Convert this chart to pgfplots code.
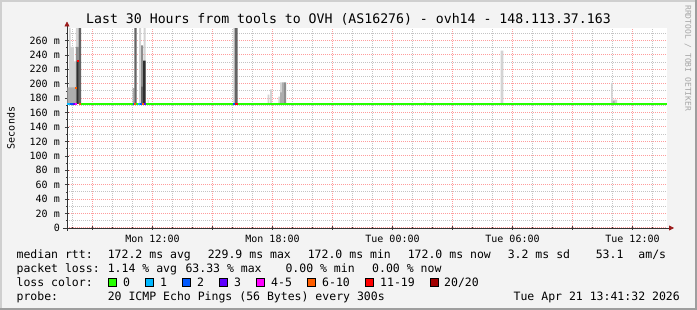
\documentclass[border=0pt]{standalone}
\usepackage{pgfplots}
\pgfplotsset{compat=1.18}
\usepackage{fontspec}
\setmainfont{DejaVu Sans Mono}
\usetikzlibrary{arrows.meta}
\definecolor{bgc}{HTML}{F3F3F3}
\definecolor{brdL}{HTML}{CFCFCF}
\definecolor{brdD}{HTML}{9E9E9E}
\definecolor{mgrid}{HTML}{FF9C9C}
\definecolor{ngrid}{HTML}{C4C4C4}
\definecolor{arrowc}{HTML}{9B1B1B}
\definecolor{lc0}{HTML}{26FF00}
\definecolor{lc1}{HTML}{00B8FF}
\definecolor{lc2}{HTML}{0059FF}
\definecolor{lc3}{HTML}{5E00FF}
\definecolor{lc4}{HTML}{FF00FF}
\definecolor{lc6}{HTML}{FF5E00}
\definecolor{lc11}{HTML}{FF0000}
\definecolor{lc20}{HTML}{A10000}
\definecolor{smL}{HTML}{D3D3D3}
\definecolor{smM}{HTML}{ADADAD}
\definecolor{smG}{HTML}{8E8E8E}
\definecolor{smD}{HTML}{646464}
\definecolor{smK}{HTML}{2E2E2E}
\newcommand{\lgfont}{\fontsize{11.5}{13}\selectfont}
\newcommand{\tkfont}{\fontsize{10}{12}\selectfont}
\begin{document}
\begin{tikzpicture}[x=1pt,y=1pt]
\useasboundingbox (0,0) rectangle (697,310);
\fill[bgc] (0,0) rectangle (697,310);
\fill[brdL] (0,0) rectangle (2,310);
\fill[brdL] (0,308) rectangle (697,310);
\fill[brdD] (0,0) rectangle (697,2);
\fill[brdD] (695,0) rectangle (697,310);
\begin{axis}[
  at={(67pt,82pt)}, anchor=south west,
  scale only axis, width=600pt, height=200pt,
  xmin=7.725, xmax=37.725, ymin=0, ymax=277.2,
  axis background/.style={fill=white},
  axis x line*=bottom, axis y line*=left,
  x axis line style={black!80, line width=0.8pt, shorten <=-4pt, shorten >=-7pt, -{Triangle[length=5pt,width=5pt,color=arrowc]}},
  y axis line style={black!80, line width=0.8pt, shorten <=-3pt, shorten >=-6.5pt, -{Triangle[length=5pt,width=5pt,color=arrowc]}},
  xtick={9,12,...,36},
  xticklabels={,Mon 12:00,,Mon 18:00,,Tue 00:00,,Tue 06:00,,Tue 12:00},
  minor xtick={8,10,11,13,14,16,17,19,20,22,23,25,26,28,29,31,32,34,35,37},
  ytick={0,20,...,260},
  yticklabels={0,20 m,40 m,60 m,80 m,100 m,120 m,140 m,160 m,180 m,200 m,220 m,240 m,260 m},
  minor ytick={10,30,...,270},
  grid=both,
  major grid style={mgrid, line width=1pt, dash pattern=on 1pt off 1pt},
  minor grid style={ngrid, line width=1pt, dash pattern=on 1pt off 1pt},
  tick align=center, major tick length=4pt, minor tick length=2pt,
  tick style={black!75, line width=0.6pt},
  /pgf/number format/assume math mode=true,
  xticklabel style={font=\tkfont, anchor=base, inner sep=0pt, yshift=-13pt},
  yticklabel style={font=\tkfont, anchor=east, inner sep=0pt, xshift=-5pt},
  unbounded coords=jump,
]
% smoke: light
\addplot[fill=smL, draw=none] coordinates {
(7.825,172)(7.825,277)(7.91,277)(7.91,172)(nan,nan)
(7.91,172)(7.91,251)(8.075,251)(8.075,172)(nan,nan)
(8.075,172)(8.075,231)(8.175,231)(8.175,172)(nan,nan)
(8.175,172)(8.175,277)(8.31,277)(8.31,172)(nan,nan)
(11.325,172)(11.325,277)(11.425,277)(11.425,172)(nan,nan)
(11.55,172)(11.55,277)(11.66,277)(11.66,172)(nan,nan)
(11.75,172)(11.75,178)(11.8,178)(11.8,172)(nan,nan)
(16.04,172)(16.04,277)(16.1,277)(16.1,172)(nan,nan)
(17.76,172)(17.76,185)(17.84,185)(17.84,172)(nan,nan)
(17.875,172)(17.875,192)(17.975,192)(17.975,172)(nan,nan)
(18.29,172)(18.29,182)(18.375,182)(18.375,172)(nan,nan)
(18.375,172)(18.375,202)(18.475,202)(18.475,172)(nan,nan)
(25.575,172)(25.575,174)(25.675,174)(25.675,172)(nan,nan)
(29.41,172)(29.41,246)(29.54,246)(29.54,172)(nan,nan)
(34.925,172)(34.925,201)(35.01,201)(35.01,172)(nan,nan)
(35.01,172)(35.01,178)(35.225,178)(35.225,172)
};
% smoke: medium
\addplot[fill=smM, draw=none] coordinates {
(7.75,172)(7.75,195)(8.175,195)(8.175,172)(nan,nan)
(11.01,172)(11.01,194)(11.09,194)(11.09,172)(nan,nan)
(18.375,172)(18.375,188)(18.475,188)(18.475,172)(nan,nan)
(18.475,172)(18.475,202)(18.575,202)(18.575,172)(nan,nan)
(35.01,172)(35.01,176)(35.1,176)(35.1,172)
};
% smoke: grey
\addplot[fill=smG, draw=none] coordinates {
(8.175,172)(8.175,251)(8.31,251)(8.31,172)(nan,nan)
(11.425,172)(11.425,253)(11.525,253)(11.525,172)(nan,nan)
(18.575,172)(18.575,202)(18.675,202)(18.675,172)
};
% smoke: dark
\addplot[fill=smD, draw=none] coordinates {
(8.31,172)(8.31,277)(8.425,277)(8.425,172)(nan,nan)
(11.09,172)(11.09,277)(11.21,277)(11.21,172)(nan,nan)
(11.425,172)(11.425,196)(11.525,196)(11.525,172)(nan,nan)
(16.1,172)(16.1,277)(16.26,277)(16.26,172)
};
% smoke: black
\addplot[fill=smK, draw=none] coordinates {
(8.21,172)(8.21,231)(8.31,231)(8.31,172)(nan,nan)
(11.525,172)(11.525,232)(11.66,232)(11.66,172)
};
% median line (0 loss)
\addplot[lc0, line width=2pt] coordinates {(8.41,172)(37.725,172)};
% median line coloured by loss
\addplot[lc1, line width=2pt] coordinates {(7.725,172)(7.89,172)(nan,nan)(11.29,172)(11.375,172)};
\addplot[lc2, line width=2pt] coordinates {(7.89,172)(8.025,172)(nan,nan)(11.0,172)(11.05,172)(nan,nan)(11.375,172)(11.46,172)(nan,nan)(16.04,172)(16.1,172)};
\addplot[lc3, line width=2pt] coordinates {(8.025,172)(8.14,172)(nan,nan)(11.575,172)(11.66,172)};
\addplot[lc4, line width=2pt] coordinates {(8.14,172)(8.21,172)};
\addplot[lc6, line width=2pt] coordinates {(8.31,172)(8.41,172)(nan,nan)(11.05,172)(11.15,172)(nan,nan)(11.46,172)(11.575,172)(nan,nan)(8.15,194)(8.245,194)};
\addplot[lc11, line width=2pt] coordinates {(16.1,172)(16.26,172)(nan,nan)(8.245,231)(8.31,231)};
\end{axis}
% title and labels
\node[anchor=base, inner sep=0pt, font=\fontsize{13.2}{15}\selectfont] at (348.5,286) {Last 30 Hours from tools to OVH (AS16276) - ovh14 - 148.113.37.163};
\node[rotate=90, inner sep=0pt, font=\tkfont] at (11,182) {Seconds};
\node[rotate=-90, anchor=west, inner sep=0pt, text=black!35, font=\fontsize{8}{9}\selectfont] at (688,305) {RRDTOOL / TOBI OETIKER};
% legend
\begin{scope}[every node/.style={anchor=base west, inner sep=0pt, font=\lgfont}]
\node at (16.4,51.5) {median rtt:};
\node at (107.6,51.5) {172.2 ms avg};
\node at (207.6,51.5) {229.9 ms max};
\node at (307.6,51.5) {172.0 ms min};
\node at (407.6,51.5) {172.0 ms now};
\node at (507.6,51.5) {3.2 ms sd};
\node at (595.6,51.5) {53.1};
\node at (638.2,51.5) {am/s};
\node at (16.4,37.5) {packet loss:};
\node at (107.6,37.5) {1.14 \% avg};
\node at (185.3,37.5) {63.33 \% max};
\node at (285.3,37.5) {0.00 \% min};
\node at (372,37.5) {0.00 \% now};
\node at (16.4,23.5) {loss color:};
\node at (123,23.5) {0};
\node at (160,23.5) {1};
\node at (197,23.5) {2};
\node at (234,23.5) {3};
\node at (271,23.5) {4-5};
\node at (322,23.5) {6-10};
\node at (380,23.5) {11-19};
\node at (444,23.5) {20/20};
\node at (16.4,9.8) {probe:};
\node at (107.6,9.8) {20 ICMP Echo Pings (56 Bytes) every 300s};
\node[anchor=base east] at (680,9.8) {Tue Apr 21 13:41:32 2026};
\end{scope}
\foreach \xx/\cc in {108/lc0,145.3/lc1,182.2/lc2,219/lc3,256.4/lc4,307.6/lc6,365.3/lc11,430/lc20}{
  \filldraw[fill=\cc, draw=black, line width=0.6pt] (\xx,23.8) rectangle ++(8,8);
}
\end{tikzpicture}
\end{document}
